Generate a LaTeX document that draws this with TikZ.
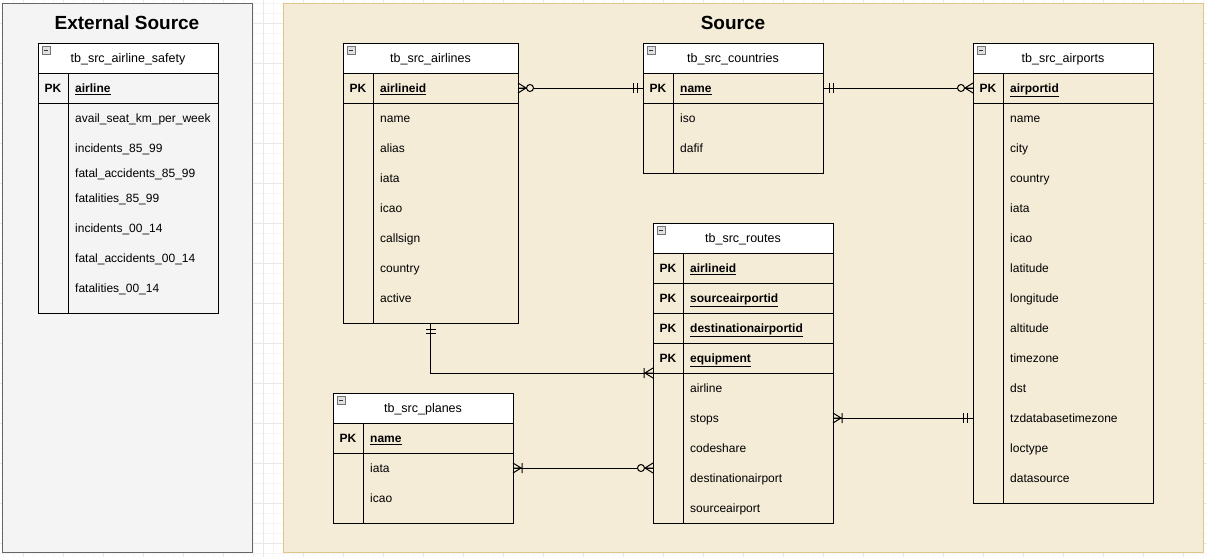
\documentclass[tikz,border=0pt]{standalone}
\usepackage{fontspec}
\setmainfont{Liberation Sans}
\usetikzlibrary{calc}
\definecolor{srcfill}{HTML}{F5ECD7}
\definecolor{srcline}{HTML}{DCC68A}
\definecolor{extfill}{HTML}{F4F4F4}
\definecolor{extline}{HTML}{666666}
\tikzset{
 tbl/.style={draw=black, line width=1pt},
 hdr/.style={tbl, fill=white, anchor=north west, minimum height=30pt, inner sep=0pt, outer sep=0pt, font=\fontsize{12.5}{15}\selectfont, text height=11.3pt, text depth=2.6pt},
 rowbox/.style={tbl, anchor=north west, minimum height=30pt, inner sep=0pt, outer sep=0pt},
 pktxt/.style={font=\fontsize{12}{14}\selectfont\bfseries, inner sep=0pt, text height=10.9pt, text depth=2.5pt},
 fld/.style={anchor=west, font=\fontsize{12}{14}\selectfont, inner sep=0pt, text height=10.9pt, text depth=2.5pt},
 conn/.style={draw=black, line width=1pt},
 gridminor/.style={draw=black!4, line width=0.6pt},
 gridmajor/.style={draw=black!9, line width=0.8pt},
 pics/minusicon/.style={code={
   \draw[draw=black!55, fill=black!12, line width=0.6pt] (4,3) rectangle (12,11);
   \draw[draw=black!80, line width=0.8pt] (6,7) -- (10,7);}},
 pics/onemand/.style={code={
   \draw[conn] (6,-5) -- (6,5) (10,-5) -- (10,5);}},
 pics/onemany/.style={code={
   \draw[conn] (0,-5) -- (8,0) -- (0,5) (0,0) -- (8,0) (9,-5) -- (9,5);}},
 pics/zeromany/.style={code={
   \draw[conn] (0,-5) -- (8,0) -- (0,5) (0,0) -- (8,0);
   \draw[conn, fill=srcfill] (12,0) circle[radius=3.5pt];}},
}
\newcommand\ertable[9]{%
 \node[hdr, minimum width=#4pt] (#1-h) at (#2,#3) {#5};
 \pic at (#2,#3) {minusicon};
 \foreach \k [count=\i] in {#6}{%
   \node[rowbox, minimum width=#4pt] (#1-pk\i) at (#2,{#3+30*\i}) {};
   \node[pktxt] (#1-pkl\i) at ({#2+15},{#3+30*\i+15}) {PK};
   \node[fld] (#1-pkf\i) at ({#2+37},{#3+30*\i+15}) {\textbf{\underline{\k}}};
 }
 \node[rowbox, minimum width=#4pt, minimum height=#8pt] (#1-b) at (#2,{#3+30+30*#7}) {};
 \draw[tbl] ({#2+30},{#3+30}) -- ({#2+30},{#3+30+30*#7+#8});
 \foreach \dy/\f [count=\j] in {#9}{\node[fld] (#1-f\j) at ({#2+37},{#3+30+30*#7+\dy}) {\f};}
}
\begin{document}
\begin{tikzpicture}[x=1pt,y=-1pt]
\useasboundingbox (0,0) rectangle (1207,557);
\fill[white] (0,0) rectangle (1207,557);
% background grid
\foreach \x in {3,13,...,1207} \draw[gridminor] (\x,0) -- (\x,557);
\foreach \y in {3,13,...,557} \draw[gridminor] (0,\y) -- (1207,\y);
\foreach \x in {23,63,...,1207} \draw[gridmajor] (\x,0) -- (\x,557);
\foreach \y in {23,63,...,557} \draw[gridmajor] (0,\y) -- (1207,\y);
% containers
\node[draw=extline, fill=extfill, line width=1pt, anchor=north west, minimum width=250pt, minimum height=549pt, inner sep=0pt] (ext) at (2,3) {};
\node[draw=srcline, fill=srcfill, line width=1pt, anchor=north west, minimum width=920pt, minimum height=549pt, inner sep=0pt] (src) at (283,3) {};
\node[font=\fontsize{19}{22}\selectfont\bfseries] (ext-t) at (127,23) {External Source};
\node[font=\fontsize{19}{22}\selectfont\bfseries] (src-t) at (733,23) {Source};
% tables
\ertable{sf}{38}{43}{180}{tb\_src\_airline\_safety}{airline}{1}{210}{15/avail\_seat\_km\_per\_week, 45/incidents\_85\_99, 70/fatal\_accidents\_85\_99, 95/fatalities\_85\_99, 125/incidents\_00\_14, 155/fatal\_accidents\_00\_14, 185/fatalities\_00\_14}
\ertable{al}{343}{43}{175}{tb\_src\_airlines}{airlineid}{1}{220}{15/name, 45/alias, 75/iata, 105/icao, 135/callsign, 165/country, 195/active}
\ertable{co}{643}{43}{180}{tb\_src\_countries}{name}{1}{70}{15/iso, 45/dafif}
\ertable{ap}{973}{43}{180}{tb\_src\_airports}{airportid}{1}{400}{15/name, 45/city, 75/country, 105/iata, 135/icao, 165/latitude, 195/longitude, 225/altitude, 255/timezone, 285/dst, 315/tzdatabasetimezone, 345/loctype, 375/datasource}
\ertable{rt}{653}{223}{180}{tb\_src\_routes}{airlineid,sourceairportid,destinationairportid,equipment}{4}{150}{15/airline, 45/stops, 75/codeshare, 105/destinationairport, 135/sourceairport}
\ertable{pl}{333}{393}{180}{tb\_src\_planes}{name}{1}{70}{15/iata, 45/icao}
% connectors
\draw[conn] (al-pk1.east) -- (co-pk1.west);
\pic at (al-pk1.east) {zeromany};
\pic[xscale=-1] at (co-pk1.west) {onemand};
\draw[conn] (co-pk1.east) -- (ap-pk1.west);
\pic at (co-pk1.east) {onemand};
\pic[xscale=-1] at (ap-pk1.west) {zeromany};
\draw[conn] (al-b.south) |- (rt-pk4.south west);
\pic[rotate=-90] at (al-b.south) {onemand};
\pic[xscale=-1] at (rt-pk4.south west) {onemany};
\coordinate (rt-stops) at ($(rt-b.north east)+(0,45)$);
\coordinate (ap-tz) at (rt-stops -| ap-b.west);
\draw[conn] (rt-stops) -- (ap-tz);
\pic at (rt-stops) {onemany};
\pic[xscale=-1] at (ap-tz) {onemand};
\coordinate (pl-iata) at ($(pl-b.north east)+(0,15)$);
\coordinate (rt-in) at (pl-iata -| rt-b.west);
\draw[conn] (pl-iata) -- (rt-in);
\pic at (pl-iata) {onemany};
\pic[xscale=-1] at (rt-in) {zeromany};
\end{tikzpicture}
\end{document}
